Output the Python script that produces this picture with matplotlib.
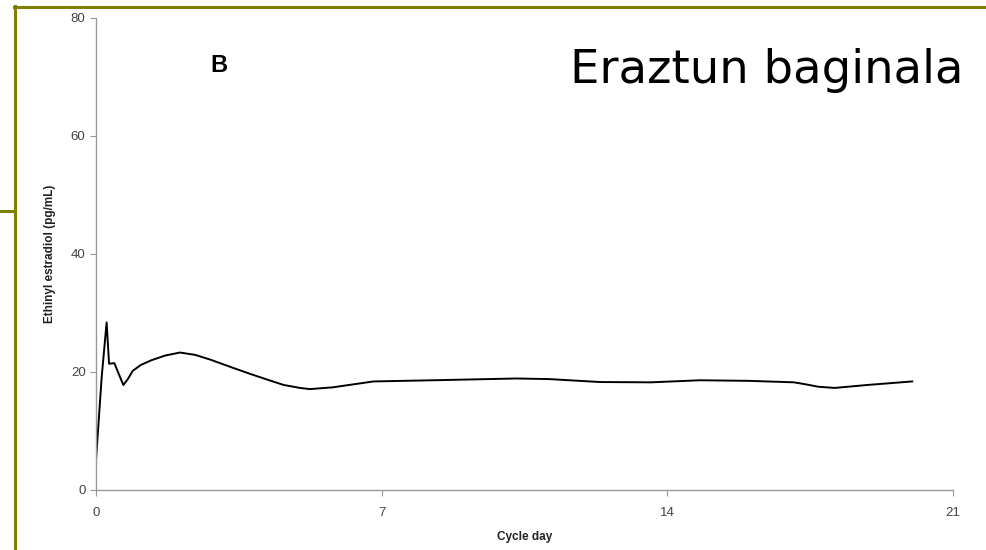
import matplotlib.pyplot as plt
from matplotlib.lines import Line2D

# values
cycle_day = [0, 0.14, 0.26, 0.32, 0.45, 0.55, 0.67, 0.78, 0.9, 1.1, 1.36, 1.7, 2.06, 2.43, 2.8,
             3.4, 3.77, 4.2, 4.6, 5.0, 5.24, 5.8, 6.3, 6.8, 8.26, 10.3, 11.1, 12.35, 13.6, 14.8,
             16.0, 17.1, 17.4, 17.7, 18.1, 18.9, 20.0]
ethinyl_estradiol = [5.1, 19.2, 28.4, 21.4, 21.5, 19.8, 17.8, 18.8, 20.2, 21.2, 22.0, 22.8, 23.3,
                     22.9, 22.1, 20.6, 19.7, 18.7, 17.8, 17.3, 17.1, 17.4, 17.9, 18.4, 18.6, 18.9,
                     18.8, 18.3, 18.25, 18.6, 18.5, 18.25, 17.9, 17.5, 17.3, 17.8, 18.4]
x_ticks = [0, 7, 14, 21]
y_ticks = [0, 20, 40, 60, 80]

plt.rcParams['font.family'] = ['Liberation Sans', 'DejaVu Sans']

fig = plt.figure(figsize=(9.86, 5.5), dpi=100)
ax = fig.add_axes([96/986, 1-490/550, 857/986, 472/550])

ax.plot(cycle_day, ethinyl_estradiol, color='black', lw=1.4, solid_joinstyle='round')

ax.set_xlim(0, 21)
ax.set_ylim(0, 80)
ax.set_xticks(x_ticks)
ax.set_yticks(y_ticks)
for s in ['top', 'right']:
    ax.spines[s].set_visible(False)
for s in ['left', 'bottom']:
    ax.spines[s].set_color('#999999')
    ax.spines[s].set_linewidth(1.0)
ax.tick_params(axis='both', colors='#999999', length=4, width=0.8, labelsize=9.5,
               labelcolor='#444444')
ax.tick_params(axis='x', pad=8)

ax.set_ylabel('Ethinyl estradiol (pg/mL)', fontsize=8.5, fontweight='bold', color='#222222')
ax.yaxis.set_label_coords(-40/857, 0.5)
ax.text(0.5, -47/472, 'Cycle day', transform=ax.transAxes, ha='center', va='center',
        fontsize=8.5, fontweight='bold', color='#222222')

fig.text(219/986, 1-66/550, 'B', ha='center', va='center', fontsize=17, fontweight='bold')
fig.text(964/986, 1-83/550, 'Eraztun baginala', ha='right', va='baseline', fontsize=33.5,
         family='DejaVu Sans')

# slide decoration lines
olive = '#7f7f00'
fig.add_artist(Line2D([14/986, 1], [1-7/550, 1-7/550], color=olive, lw=2.2, transform=fig.transFigure))
fig.add_artist(Line2D([15/986, 15/986], [1-6/550, 0], color=olive, lw=2.2, transform=fig.transFigure))
fig.add_artist(Line2D([0, 15/986], [1-211/550, 1-211/550], color=olive, lw=2.2, transform=fig.transFigure))

fig.savefig('out.png', dpi=100)
